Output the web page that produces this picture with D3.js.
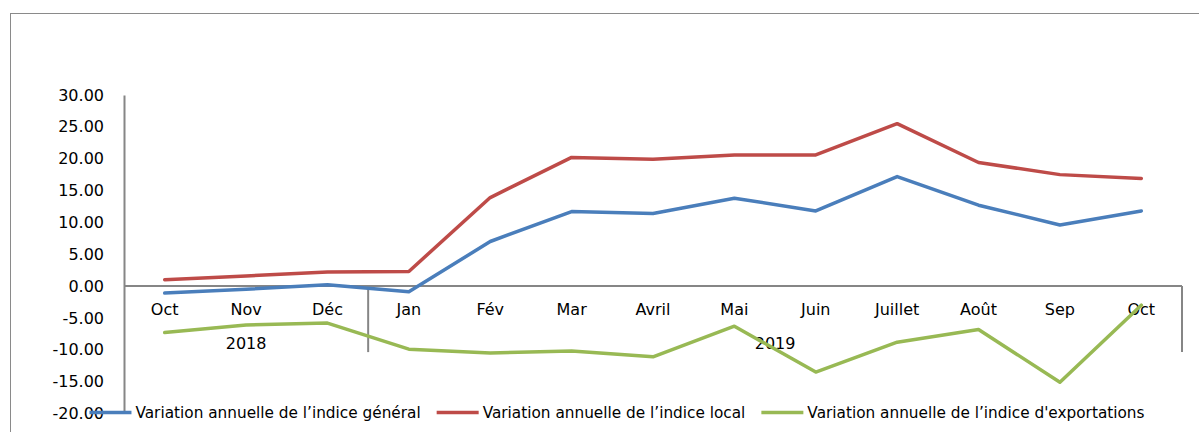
<!DOCTYPE html>
<html>
<head>
<meta charset="utf-8">
<script src="https://cdn.jsdelivr.net/npm/d3@7"></script>
<style>
  html, body { margin: 0; padding: 0; background: #fff; }
  svg { display: block; }
  text { font-family: "DejaVu Sans", sans-serif; fill: #000; }
</style>
</head>
<body>
<svg id="chart" width="1199" height="432"></svg>
<script>
// ---- data ----
const months = ["Oct", "Nov", "Déc", "Jan", "Fév", "Mar", "Avril", "Mai", "Juin", "Juillet", "Août", "Sep", "Oct"];
const years = ["2018", "2019"];
const yearSpans = [3, 10];
const indiceGeneral = [-1.1, -0.5, 0.2, -0.9, 7.0, 11.7, 11.4, 13.8, 11.8, 17.2, 12.7, 9.6, 11.8];
const indiceLocal = [1.0, 1.6, 2.2, 2.3, 13.9, 20.2, 19.9, 20.6, 20.6, 25.5, 19.4, 17.5, 16.9];
const indiceExport = [-7.3, -6.1, -5.8, -9.9, -10.5, -10.2, -11.1, -6.3, -13.5, -8.8, -6.8, -15.1, -3.0];
const seriesNames = [
  "Variation annuelle de l\u2019indice général",
  "Variation annuelle de l\u2019indice local",
  "Variation annuelle de l\u2019indice d'exportations"
];
const seriesColors = ["#4A7EBB", "#BE4B48", "#98B954"];
const yTicks = [30, 25, 20, 15, 10, 5, 0, -5, -10, -15, -20];

// ---- layout ----
const svg = d3.select("#chart");
const plot = { left: 124, right: 1182, top: 95, bottom: 413.5 };
const axisColor = "#868686";
const axisFont = 16;

// outer frame
svg.append("rect")
  .attr("x", 10.5).attr("y", 13.5)
  .attr("width", 1300).attr("height", 600)
  .attr("fill", "none").attr("stroke", "#8a8a8a").attr("stroke-width", 1);

const x = d3.scaleBand().domain(d3.range(months.length)).range([plot.left, plot.right]);
const xc = i => x(i) + x.bandwidth() / 2;
const y = d3.scaleLinear().domain([-20, 30]).range([plot.bottom, plot.top]);

// y axis
const yAxis = d3.axisLeft(y).tickValues(yTicks).tickSize(0).tickPadding(20)
  .tickFormat(d => d.toFixed(2));
const gy = svg.append("g").attr("transform", `translate(${plot.left},0)`).call(yAxis);
gy.select(".domain").attr("stroke", axisColor).attr("stroke-width", 2);
gy.selectAll("text").attr("font-size", axisFont).attr("font-family", "DejaVu Sans").attr("fill", "#000");

// x axis at 0
const y0 = y(0);
svg.append("line")
  .attr("x1", plot.left).attr("x2", plot.right)
  .attr("y1", y0).attr("y2", y0)
  .attr("stroke", axisColor).attr("stroke-width", 2);

const gx = svg.append("g").attr("transform", `translate(0,${y0})`)
  .call(d3.axisBottom(x).tickSize(0).tickFormat(i => months[i]));
gx.select(".domain").remove();
gx.selectAll("text").attr("font-size", axisFont).attr("font-family", "DejaVu Sans")
  .attr("fill", "#000").attr("dy", 0).attr("y", 29);

// group separators
let acc = 0;
const bounds = [0];
yearSpans.forEach(s => { acc += s; bounds.push(acc); });
bounds.forEach((b, k) => {
  if (k === 0) return;
  const bx = b < months.length ? x(b) : plot.right;
  svg.append("line")
    .attr("x1", bx).attr("x2", bx)
    .attr("y1", y0).attr("y2", y0 + 66)
    .attr("stroke", axisColor).attr("stroke-width", 2);
});
years.forEach((yr, k) => {
  const x1 = x(bounds[k]);
  const x2 = bounds[k + 1] < months.length ? x(bounds[k + 1]) : plot.right;
  svg.append("text")
    .attr("x", (x1 + x2) / 2).attr("y", y0 + 63)
    .attr("text-anchor", "middle")
    .attr("font-size", axisFont)
    .text(yr);
});

// lines
const line = d3.line().x((d, i) => xc(i)).y(d => y(d));
[indiceGeneral, indiceLocal, indiceExport].forEach((s, k) => {
  svg.append("path")
    .datum(s)
    .attr("d", line)
    .attr("fill", "none")
    .attr("stroke", seriesColors[k])
    .attr("stroke-width", 3.5)
    .attr("stroke-linejoin", "round")
    .attr("stroke-linecap", "round");
});

// legend
const legY = 412.5;
const lineLen = 42, lineGap = 4, itemGap = 16;
const leg = svg.append("g");
const items = seriesNames.map((name, k) => {
  const g = leg.append("g");
  g.append("line").attr("x1", 0).attr("x2", lineLen).attr("y1", legY).attr("y2", legY)
    .attr("stroke", seriesColors[k]).attr("stroke-width", 3.5);
  const t = g.append("text").attr("x", lineLen + lineGap).attr("y", legY + 5.5)
    .attr("font-size", 15.3).text(name);
  return { g, w: lineLen + lineGap + t.node().getComputedTextLength() };
});
const total = d3.sum(items, d => d.w) + itemGap * (items.length - 1);
let cx = 617 - total / 2;
items.forEach(it => { it.g.attr("transform", `translate(${cx},0)`); cx += it.w + itemGap; });
</script>
</body>
</html>
